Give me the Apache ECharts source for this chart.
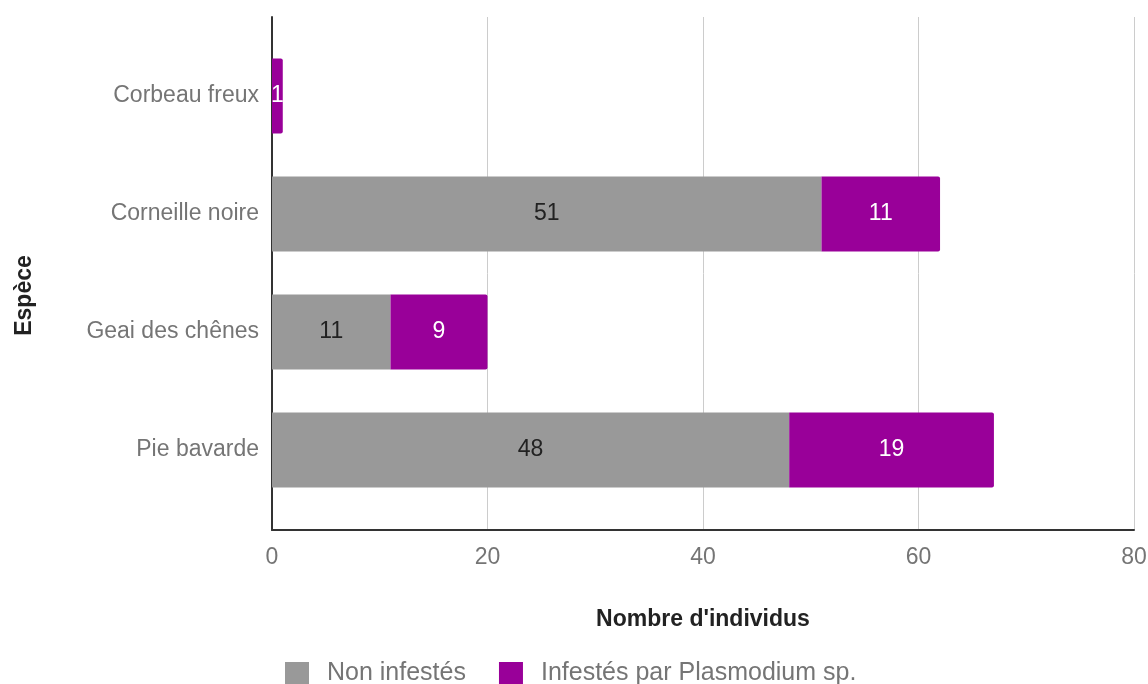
<!DOCTYPE html>
<html>
<head>
<meta charset="utf-8">
<script src="https://cdn.jsdelivr.net/npm/echarts@6/dist/echarts.min.js"></script>
<style>
html,body{margin:0;padding:0;background:#fff;}
#chart{width:1148px;height:684px;}
</style>
</head>
<body>
<div id="chart"></div>
<script>
const categories = ['Corbeau freux', 'Corneille noire', 'Geai des chênes', 'Pie bavarde'];
const nonInfestes = [0, 51, 11, 48];
const infestes = [1, 11, 9, 19];
const seriesNames = ['Non infestés', 'Infestés par Plasmodium sp.'];
const xTicks = [0, 20, 40, 60, 80];
const xTitle = "Nombre d'individus";
const yTitle = 'Espèce';

const FONT = '"Liberation Sans", Arial, sans-serif';
const chart = echarts.init(document.getElementById('chart'), null, {renderer: 'canvas'});

const labelFmt = p => (p.value ? String(p.value) : '');

chart.setOption({
  backgroundColor: '#ffffff',
  animation: false,
  textStyle: {fontFamily: FONT},
  legend: {
    left: 285,
    top: 661,
    padding: 0,
    itemWidth: 24,
    itemHeight: 23,
    itemGap: 33,
    icon: 'rect',
    data: seriesNames,
    textStyle: {fontFamily: FONT, fontSize: 25, color: '#757575', padding: [0, 0, 0, 13]}
  },
  grid: [
    {left: 272, right: 14, top: 17, bottom: 154, containLabel: false, outerBoundsMode: 'none'},
    {left: 272, right: 14, top: 37, bottom: 175, containLabel: false, outerBoundsMode: 'none'}
  ],
  xAxis: [
    {
      gridIndex: 0, type: 'value', min: xTicks[0], max: xTicks[xTicks.length - 1], interval: xTicks[1] - xTicks[0],
      axisLine: {show: true, lineStyle: {color: '#333333', width: 2}},
      axisTick: {show: false},
      axisLabel: {fontFamily: FONT, fontSize: 23, color: '#757575', margin: 16},
      splitLine: {show: true, lineStyle: {color: '#cccccc', width: 1}},
      name: xTitle, nameLocation: 'middle', nameGap: 78,
      nameTextStyle: {fontFamily: FONT, fontSize: 23, fontWeight: 'bold', color: '#222222'}
    },
    {
      gridIndex: 1, type: 'value', min: xTicks[0], max: xTicks[xTicks.length - 1], show: false
    }
  ],
  yAxis: [
    {
      gridIndex: 0, type: 'value', min: 0, max: 1,
      axisLine: {show: true, onZero: false, lineStyle: {color: '#333333', width: 2}},
      axisTick: {show: false}, axisLabel: {show: false}, splitLine: {show: false},
      name: yTitle, nameLocation: 'middle', nameRotate: 90, nameGap: 236,
      nameTextStyle: {fontFamily: FONT, fontSize: 23, fontWeight: 'bold', color: '#222222', padding: [0, 44, 0, 0]}
    },
    {
      gridIndex: 1, type: 'category', inverse: true, data: categories,
      axisLine: {show: false}, axisTick: {show: false}, splitLine: {show: false},
      axisLabel: {fontFamily: FONT, fontSize: 23, color: '#757575', margin: 13}
    }
  ],
  series: [
    {
      name: seriesNames[0], type: 'bar', stack: 'total', xAxisIndex: 1, yAxisIndex: 1,
      barWidth: 75, data: nonInfestes,
      itemStyle: {color: '#999999'},
      label: {show: true, position: 'inside', formatter: labelFmt, fontFamily: FONT, fontSize: 23, color: '#222222'}
    },
    {
      name: seriesNames[1], type: 'bar', stack: 'total', xAxisIndex: 1, yAxisIndex: 1,
      barWidth: 75, data: infestes,
      itemStyle: {color: '#990099', borderRadius: [0, 2, 2, 0]},
      label: {show: true, position: 'inside', formatter: labelFmt, fontFamily: FONT, fontSize: 23, color: '#ffffff'}
    }
  ]
});
</script>
</body>
</html>
